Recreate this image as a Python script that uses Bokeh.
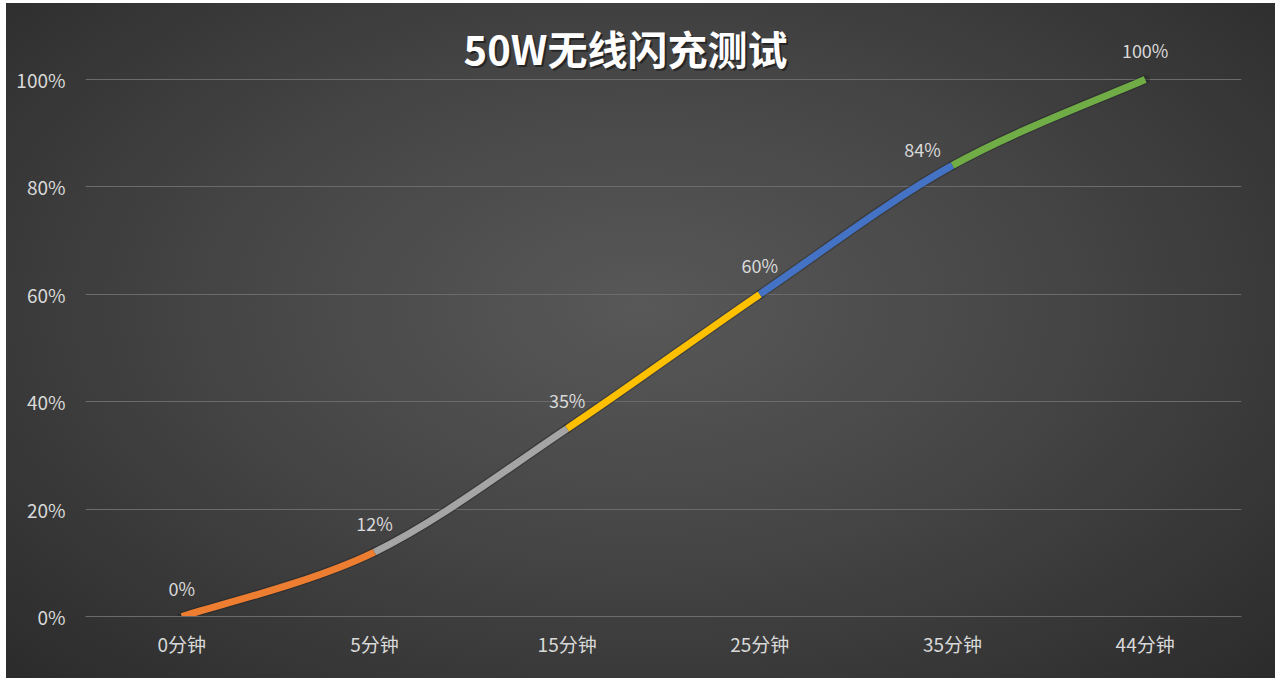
from bokeh.plotting import figure
from bokeh.models import Range1d, FixedTicker, NumeralTickFormatter, Label, ColumnDataSource
from bokeh.core.properties import value
from bokeh.embed import file_html
from bokeh.resources import INLINE

# ---- data ----
categories = ["0分钟", "5分钟", "15分钟", "25分钟", "35分钟", "44分钟"]
charge = [0.00, 0.12, 0.35, 0.60, 0.84, 1.00]
charge_labels = ["0%", "12%", "35%", "60%", "84%", "100%"]
segment_colors = ["#ED7D31", "#A5A5A5", "#FFC000", "#4472C4", "#70AD47"]
title_text = "50W无线闪充测试"

FONT = "Noto Sans CJK SC"
TXT = "#d9d9d9"

xs = list(range(len(categories)))

p = figure(width=1269, height=675, output_backend="svg", toolbar_location=None,
           x_range=Range1d(-0.5, len(categories) - 0.5),
           y_range=Range1d(0, (616 - 3) / 537.0),
           min_border_left=79, min_border_right=34, min_border_top=0, min_border_bottom=62)
p.margin = (3, 5, 6, 6)
p.styles = {"background": "radial-gradient(ellipse farthest-corner at 50% 45%, #585858 0%, #464646 45%, #2b2b2b 100%)"}
p.background_fill_color = None
p.border_fill_color = None
p.outline_line_color = None

# axes
p.xaxis.ticker = FixedTicker(ticks=xs)
p.xaxis.major_label_overrides = {i: c for i, c in enumerate(categories)}
p.xaxis.major_tick_line_color = None
p.xaxis.minor_tick_line_color = None
p.xaxis.axis_line_color = "#6b6b6b"
p.xaxis.major_label_text_font = FONT
p.xaxis.major_label_text_font_size = "19px"
p.xaxis.major_label_text_color = TXT
p.xaxis.major_label_standoff = 7

p.yaxis.ticker = FixedTicker(ticks=[0, 0.2, 0.4, 0.6, 0.8, 1.0])
p.yaxis.formatter = NumeralTickFormatter(format="0%")
p.yaxis.major_tick_line_color = None
p.yaxis.minor_tick_line_color = None
p.yaxis.axis_line_color = None
p.yaxis.major_label_text_font = FONT
p.yaxis.major_label_text_font_size = "19px"
p.yaxis.major_label_text_color = TXT
p.yaxis.major_label_standoff = 14

p.xgrid.grid_line_color = None
p.ygrid.ticker = FixedTicker(ticks=[0, 0.2, 0.4, 0.6, 0.8, 1.0])
p.ygrid.grid_line_color = "#6b6b6b"
p.ygrid.grid_line_width = 1

# smooth line segments (Catmull-Rom style bezier between data points)
n = len(xs)
seg = dict(x0=[], y0=[], x1=[], y1=[], cx0=[], cy0=[], cx1=[], cy1=[], color=[])
for i in range(n - 1):
    pi = max(i - 1, 0)
    ni = min(i + 2, n - 1)
    seg["x0"].append(xs[i]); seg["y0"].append(charge[i])
    seg["x1"].append(xs[i + 1]); seg["y1"].append(charge[i + 1])
    seg["cx0"].append(xs[i] + (xs[i + 1] - xs[pi]) / 6.0)
    seg["cy0"].append(charge[i] + (charge[i + 1] - charge[pi]) / 6.0)
    seg["cx1"].append(xs[i + 1] - (xs[ni] - xs[i]) / 6.0)
    seg["cy1"].append(charge[i + 1] - (charge[ni] - charge[i]) / 6.0)
    seg["color"].append(segment_colors[i])
src = ColumnDataSource(seg)
p.bezier(x0="x0", y0="y0", x1="x1", y1="y1", cx0="cx0", cy0="cy0", cx1="cx1", cy1="cy1",
         source=src, line_color="#1e1e1e", line_alpha=0.35, line_width=9.5, line_cap="round")
p.bezier(x0="x0", y0="y0", x1="x1", y1="y1", cx0="cx0", cy0="cy0", cx1="cx1", cy1="cy1",
         source=src, line_color="color", line_width=7, line_cap="butt")

# data labels
x_off = [0, 0, 0, 0, -30, 0]
y_off = [-29, -29, -29, -29, -16, -30]
lab = ColumnDataSource(dict(x=xs, y=charge, t=charge_labels, xo=x_off, yo=y_off))
p.text(x="x", y="y", text="t", source=lab, x_offset="xo", y_offset="yo",
       text_align="center", text_baseline="middle", text_color=TXT,
       text_font=value(FONT), text_font_size="18px")

# title with shadow
ty = (616 - 47) / 537.0
p.add_layout(Label(x=2.5, y=ty, x_offset=-36, y_offset=-2, text=title_text,
                   text_align="center", text_baseline="middle", text_color="#111111",
                   text_alpha=0.6, text_font=FONT, text_font_size="40px", text_font_style="bold"))
p.add_layout(Label(x=2.5, y=ty, x_offset=-38, text=title_text,
                   text_align="center", text_baseline="middle", text_color="#ffffff",
                   text_font=FONT, text_font_size="40px", text_font_style="bold"))

open("out.html", "w").write(file_html(p, INLINE))
